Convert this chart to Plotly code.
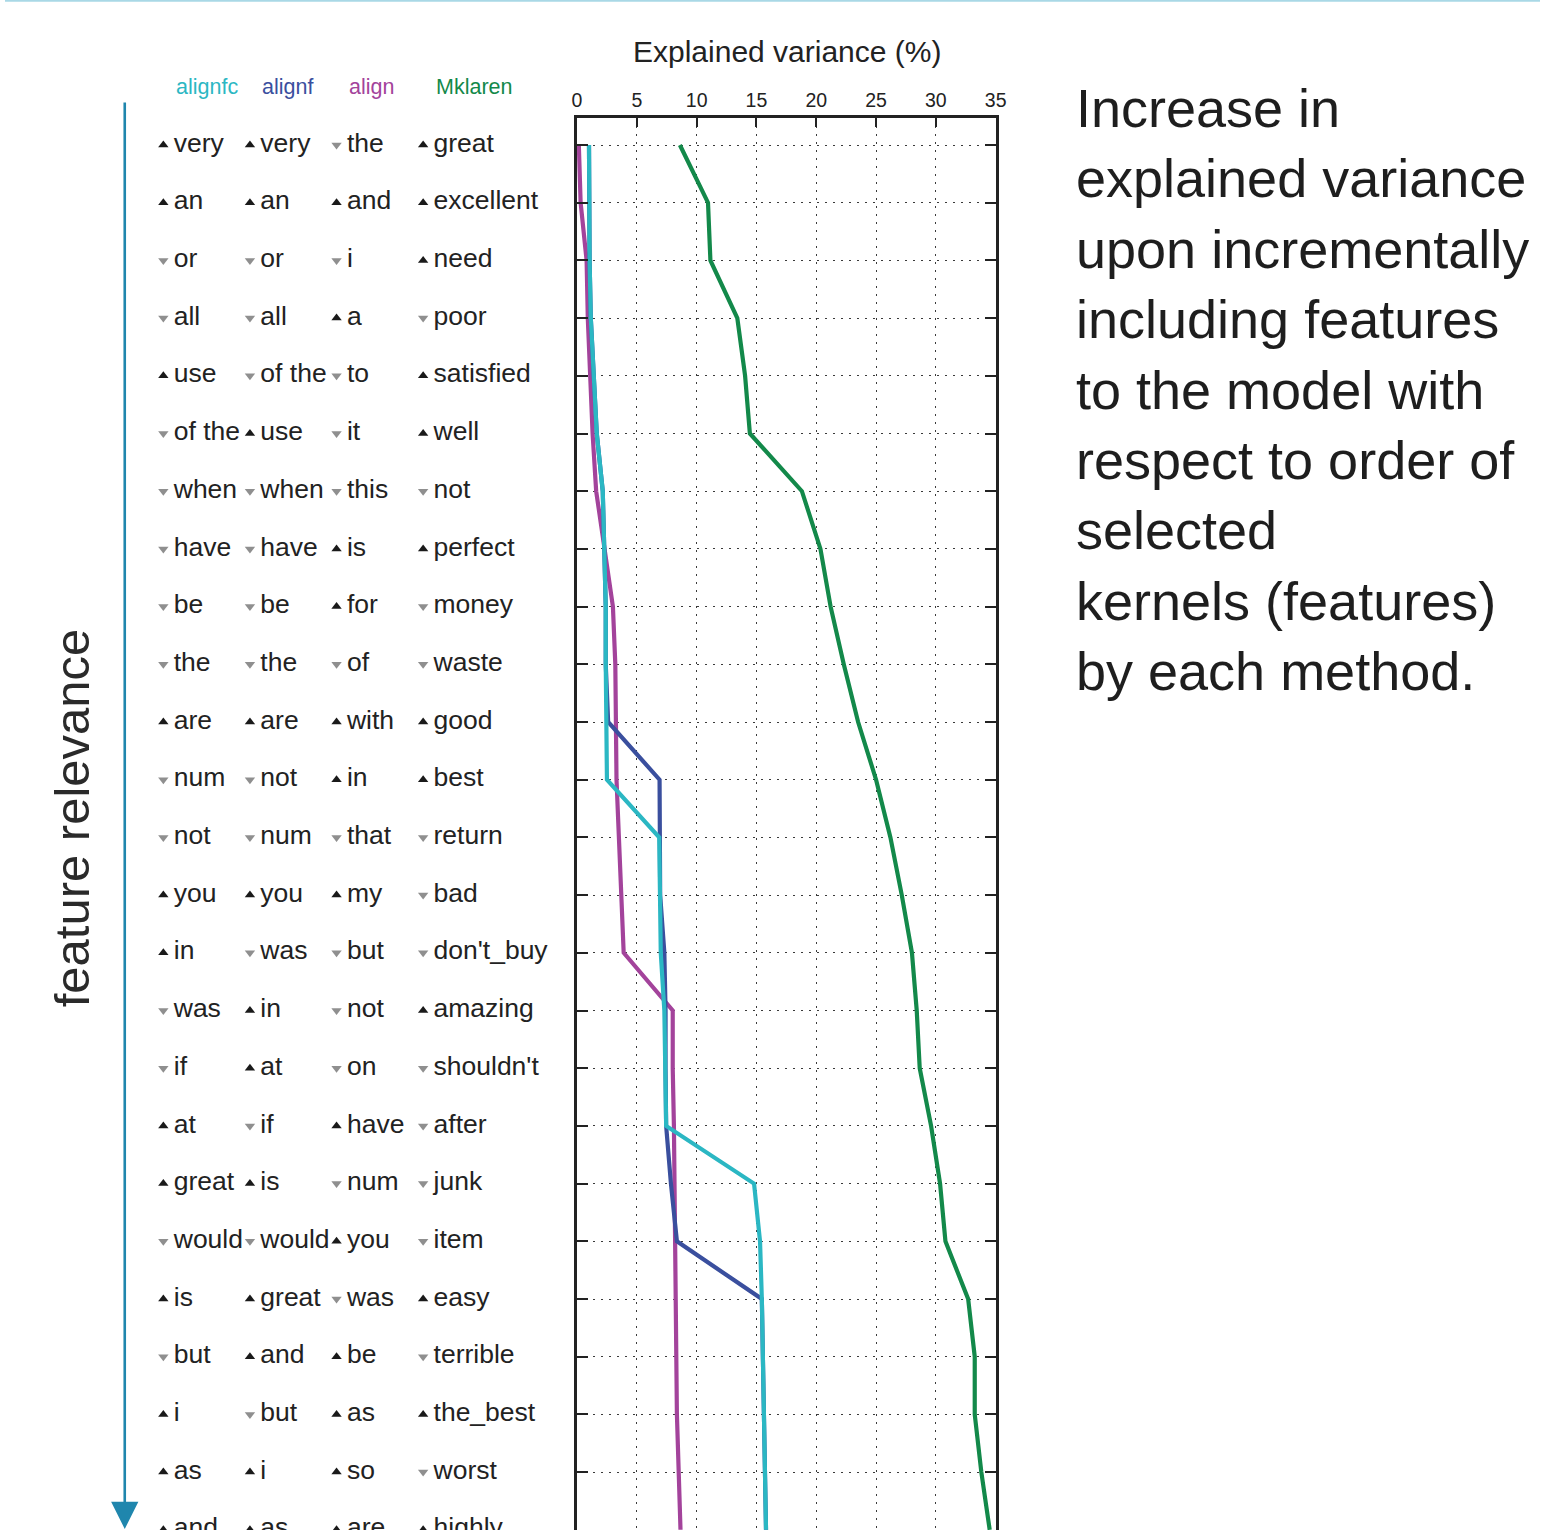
import plotly.graph_objects as go

W, H = 1551, 1530

# ---------------- data ----------------
rows = list(range(1, 26))
methods = ["alignfc", "alignf", "align", "Mklaren"]
method_colors = ["#2bb7c3", "#3a4f9e", "#a3439b", "#13894a"]

words_alignfc = ["very", "an", "or", "all", "use", "of the", "when", "have", "be", "the",
                 "are", "num", "not", "you", "in", "was", "if", "at", "great", "would",
                 "is", "but", "i", "as", "and"]
words_alignf = ["very", "an", "or", "all", "of the", "use", "when", "have", "be", "the",
                "are", "not", "num", "you", "was", "in", "at", "if", "is", "would",
                "great", "and", "but", "i", "as"]
words_align = ["the", "and", "i", "a", "to", "it", "this", "is", "for", "of",
               "with", "in", "that", "my", "but", "not", "on", "have", "num", "you",
               "was", "be", "as", "so", "are"]
words_mklaren = ["great", "excellent", "need", "poor", "satisfied", "well", "not", "perfect", "money", "waste",
                 "good", "best", "return", "bad", "don't_buy", "amazing", "shouldn't", "after", "junk", "item",
                 "easy", "terrible", "the_best", "worst", "highly"]

# u = positive (up, black), d = negative (down, grey)
dirs_alignfc = list("uuddu" "ddddd" "udduu" "dduud" "uduuu")
dirs_alignf = list("uuddd" "udddd" "uddud" "uudud" "uuduu")
dirs_align = list("dudud" "dduud" "uudud" "ddudu" "duuuu")
dirs_mklaren = list("uuudu" "ududd" "uuddd" "udddd" "ududu")

var_alignfc = [1.0, 1.0, 1.05, 1.15, 1.4, 1.65, 2.15, 2.3, 2.4, 2.4,
               2.42, 2.5, 6.87, 6.9, 7.0, 7.3, 7.35, 7.45, 14.8, 15.3,
               15.45, 15.55, 15.6, 15.7, 15.8]
var_alignf = [1.0, 1.0, 1.05, 1.15, 1.4, 1.65, 2.15, 2.3, 2.4, 2.4,
              2.6, 6.9, 6.9, 6.95, 7.3, 7.4, 7.4, 7.45, 7.85, 8.35,
              15.45, 15.55, 15.6, 15.7, 15.8]
var_align = [0.15, 0.3, 0.8, 0.9, 1.1, 1.3, 1.6, 2.3, 3.0, 3.2,
             3.25, 3.3, 3.5, 3.7, 3.9, 8.0, 8.0, 8.1, 8.15, 8.25,
             8.3, 8.35, 8.35, 8.5, 8.65]
var_mklaren = [8.6, 10.95, 11.15, 13.4, 14.05, 14.45, 18.8, 20.35, 21.2, 22.3,
               23.5, 25.0, 26.2, 27.15, 28.0, 28.4, 28.65, 29.6, 30.35, 30.8,
               32.7, 33.25, 33.25, 33.8, 34.5]

x_ticks = [0, 5, 10, 15, 20, 25, 30, 35]

caption_lines = ["Increase in", "explained variance", "upon incrementally",
                 "including features", "to the model with", "respect to order of",
                 "selected", "kernels (features)", "by each method."]

words_all = [words_alignfc, words_alignf, words_align, words_mklaren]
dirs_all = [dirs_alignfc, dirs_alignf, dirs_align, dirs_mklaren]
vars_all = [var_alignfc, var_alignf, var_align, var_mklaren]

# ---------------- layout helpers (pixels -> paper) ----------------
def px(x):
    return x / W

def py(y):
    return 1 - y / H

ROW0_PX, ROW_STEP = 145.0, 57.7
PLOT_TOP, PLOT_BOTTOM = 118.0, 1530.0
y_top_val = 1 - (ROW0_PX - PLOT_TOP) / ROW_STEP
y_bot_val = 1 + (PLOT_BOTTOM - ROW0_PX) / ROW_STEP

COL0_PX, COL_STEP = 160.0, 87.5
TBL_L, TBL_R = 140.0, 560.0
x2_range = [(TBL_L - COL0_PX) / COL_STEP, (TBL_R - COL0_PX) / COL_STEP]
TEXT_OFF = 10.5 / COL_STEP

fig = go.Figure()

# ---------------- lines ----------------
draw_order = [3, 2, 1, 0]
for i in draw_order:
    fig.add_trace(go.Scatter(
        x=vars_all[i], y=rows, mode="lines", name=methods[i],
        line=dict(color=method_colors[i], width=4.2),
        xaxis="x", yaxis="y", showlegend=False, hoverinfo="skip"))

# ---------------- word table ----------------
for c in range(4):
    sym = ["triangle-up" if d == "u" else "triangle-down" for d in dirs_all[c]]
    col = ["#1a1a1a" if d == "u" else "#8f8f8f" for d in dirs_all[c]]
    fig.add_trace(go.Scatter(
        x=[c] * len(rows), y=rows, mode="markers",
        marker=dict(symbol=sym, color=col, size=9, line=dict(width=0)),
        xaxis="x2", yaxis="y2", showlegend=False, hoverinfo="skip", cliponaxis=False))
    fig.add_trace(go.Scatter(
        x=[c + TEXT_OFF] * len(rows), y=rows, mode="text",
        text=words_all[c], textposition="middle right",
        textfont=dict(family="Liberation Sans, Arial, sans-serif", size=26.5, color="#222222"),
        xaxis="x2", yaxis="y2", showlegend=False, hoverinfo="skip", cliponaxis=False))

annotations = []
# method headers
for c in range(4):
    annotations.append(dict(
        x=c + TEXT_OFF, y=py(87), xref="x2", yref="paper", text=methods[c],
        showarrow=False, xanchor="left", yanchor="middle",
        font=dict(family="Liberation Sans, Arial, sans-serif", size=21.5, color=method_colors[c])))

# axis title
annotations.append(dict(
    x=px(790), y=py(52), xref="paper", yref="paper", text="Explained variance (%)",
    showarrow=False, xanchor="center", yanchor="middle",
    font=dict(family="Liberation Sans, Arial, sans-serif", size=30, color="#222222")))

# feature relevance arrow
annotations.append(dict(
    x=px(121), y=py(1533), xref="paper", yref="paper",
    ax=0, ay=-(1533 - 101), axref="pixel", ayref="pixel",
    text="", showarrow=True, arrowhead=2, arrowsize=2.1, arrowwidth=2.6,
    arrowcolor="#1f86ad"))
annotations.append(dict(
    x=px(68), y=py(818), xref="paper", yref="paper", text="feature relevance",
    textangle=-90, showarrow=False, xanchor="center", yanchor="middle",
    font=dict(family="Liberation Sans, Arial, sans-serif", size=49, color="#2a2a2a")))

# caption on the right
for k, line in enumerate(caption_lines):
    annotations.append(dict(
        x=px(1080), y=py(108 + 70.4 * k), xref="paper", yref="paper", text=line,
        showarrow=False, xanchor="left", yanchor="middle",
        font=dict(family="Liberation Sans, Arial, sans-serif", size=54, color="#1e1e1e")))

shapes = [dict(type="line", xref="paper", yref="paper", x0=0, x1=1, y0=py(0.8), y1=py(0.8),
               line=dict(color="#a9d8e6", width=2))]

grid_dash = "2px,6px"
fig.update_layout(
    width=W, height=H,
    margin=dict(l=0, r=0, t=0, b=0),
    paper_bgcolor="white", plot_bgcolor="white",
    showlegend=False,
    xaxis=dict(
        domain=[px(578), px(1001)], range=[0, 35], side="top",
        tickvals=x_ticks, ticks="inside", ticklen=9, tickwidth=1.5, tickcolor="#222222",
        showline=True, linecolor="#222222", linewidth=2.5, mirror=False,
        showgrid=True, gridcolor="#3a3a3a", gridwidth=1.4, griddash=grid_dash,
        zeroline=False, anchor="y",
        tickfont=dict(family="Liberation Sans, Arial, sans-serif", size=19.5, color="#222222"),
        fixedrange=True),
    yaxis=dict(
        domain=[0, py(PLOT_TOP)], range=[y_bot_val, y_top_val],
        tickvals=rows, ticks="inside", ticklen=11, tickwidth=1.5, tickcolor="#222222",
        showticklabels=False,
        showline=True, linecolor="#222222", linewidth=2.5, mirror="ticks",
        showgrid=True, gridcolor="#3a3a3a", gridwidth=1.4, griddash=grid_dash,
        zeroline=False, anchor="x", fixedrange=True),
    xaxis2=dict(domain=[px(TBL_L), px(TBL_R)], range=x2_range, visible=False,
                anchor="y2", fixedrange=True),
    yaxis2=dict(domain=[0, py(PLOT_TOP)], matches="y", visible=False,
                anchor="x2", fixedrange=True),
    annotations=annotations,
    shapes=shapes,
)

fig.write_html("out.html", config={"displayModeBar": False})

# remove the default browser body margin so the figure sits at the page origin
with open("out.html", "r", encoding="utf-8") as f:
    html = f.read()
html = html.replace("<head>", "<head><style>html,body{margin:0;padding:0;overflow:hidden;}</style>", 1)
with open("out.html", "w", encoding="utf-8") as f:
    f.write(html)
